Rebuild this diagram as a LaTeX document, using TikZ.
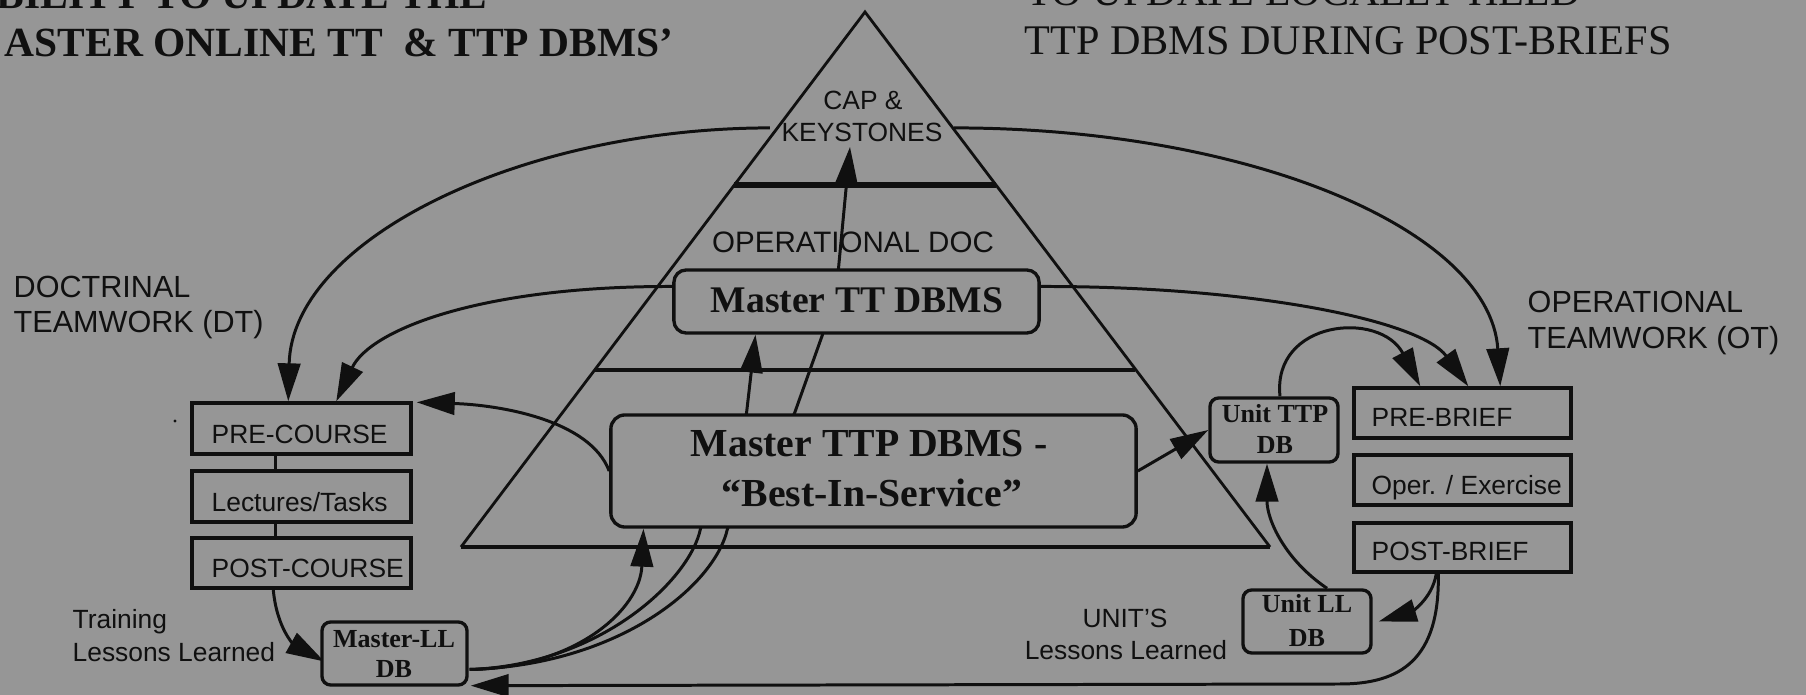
\documentclass[tikz,border=0pt]{standalone}
\usepackage{fontspec}
\setmainfont{Liberation Serif}
\setsansfont{Liberation Sans}
\usetikzlibrary{arrows.meta,calc}
\definecolor{bgc}{RGB}{150,150,150}
\definecolor{ink}{RGB}{16,16,16}
\pgfdeclarelayer{paper}
\pgfdeclarelayer{lines}
\pgfsetlayers{paper,lines,main}
\begin{document}
\begin{tikzpicture}[x=0.01cm,y=-0.01cm,
  every node/.style={inner sep=0pt,text=ink},
  sqbox/.style={draw=ink,line width=0.95pt,fill=bgc,rectangle},
  rdbox/.style={sqbox,rounded corners=#1},
  con/.style={draw=ink,line width=0.85pt,-{Triangle[length=10.8pt,width=6.4pt]}},
  plain/.style={draw=ink,line width=0.85pt},
  fsans/.style={font=\sffamily\fontsize{7.5pt}{9pt}\selectfont},
  fside/.style={font=\sffamily\fontsize{8.7pt}{10pt}\selectfont},
  fdoc/.style={font=\sffamily\fontsize{8.4pt}{10pt}\selectfont},
  fsb/.style={font=\bfseries\fontsize{7.4pt}{9pt}\selectfont},
  fttp/.style={font=\bfseries\fontsize{11.3pt}{13pt}\selectfont},
  fttd/.style={font=\bfseries\fontsize{10.7pt}{12pt}\selectfont},
  ftb/.style={font=\bfseries\fontsize{11.8pt}{14pt}\selectfont},
  ftr/.style={font=\fontsize{12pt}{14pt}\selectfont}]

\begin{pgfonlayer}{paper}
\fill[bgc] (0,0) rectangle (1806,695);
\end{pgfonlayer}
\useasboundingbox (0,0) rectangle (1806,695);

% titles (cut by the frame, as in the reference)
\begin{scope}
\clip (0,0) rectangle (1806,695);
\node[ftb,anchor=base east] (tl1) at (488,9) {BILITY TO UPDATE THE};
\node[ftb,anchor=base east] (tl2) at (674,57) {ASTER ONLINE TT\ \ \& TTP DBMS’};
\node[ftr,anchor=base west] (tr1) at (1026,6) {TO UPDATE LOCALLY HELD};
\node[ftr,anchor=base west] (tr2) at (1024,55) {TTP DBMS DURING POST-BRIEFS};
\end{scope}

% pyramid
\draw[ink,line width=0.8pt] (461,547) -- (865,12) -- (1270,547);
\draw[ink,line width=1.1pt] (461,547) -- (1270,547);
\draw[ink,line width=1.6pt] (734,185) -- (996,185);
\draw[ink,line width=1.0pt] (595,370) -- (1135,370);

\node[fsans,anchor=base] (capA) at (863,110) {CAP \&};
\node[fsans,anchor=base] (capB) at (862,142) {KEYSTONES};
\node[fdoc,anchor=base] (opdoc) at (853,253) {OPERATIONAL DOC};

% boxes
\node[rdbox=3.5pt,minimum width=3.65cm,minimum height=0.63cm] (ttd) at (856.5,301.5) {};
\node[fttd,anchor=base] (ttdT) at (857,313) {Master TT DBMS};
\node[rdbox=4pt,minimum width=5.25cm,minimum height=1.12cm] (ttp) at (873.5,471) {};
\node[fttp,anchor=base] (ttpA) at (869,457) {Master TTP DBMS -};
\node[fttp,anchor=base] (ttpB) at (872,507) {“Best-In-Service”};

\node[sqbox,minimum width=2.19cm,minimum height=0.51cm] (pre) at (301.5,428.5) {};
\node[sqbox,minimum width=2.19cm,minimum height=0.51cm] (lec) at (301.5,496.5) {};
\node[sqbox,minimum width=2.19cm,minimum height=0.50cm] (post) at (301.5,563) {};
\node[fsans,anchor=base west] (preT) at (211,444) {PRE-COURSE};
\node[fsans,anchor=base west] (lecT) at (211,512) {Lectures/Tasks};
\node[fsans,anchor=base west] (postT) at (211,578) {POST-COURSE};

\node[rdbox=2.5pt,minimum width=1.45cm,minimum height=0.63cm] (mll) at (394.5,653.5) {};
\node[fsb,anchor=base] (mllA) at (394,648) {Master-LL};
\node[fsb,anchor=base] (mllB) at (394,678) {DB};

\node[rdbox=2.5pt,minimum width=1.28cm,minimum height=0.64cm] (utt) at (1274,430) {};
\node[fsb,anchor=base] (uttA) at (1275,423) {Unit TTP};
\node[fsb,anchor=base] (uttB) at (1275,454) {DB};

\node[rdbox=2.5pt,minimum width=1.28cm,minimum height=0.63cm] (ull) at (1307,621.5) {};
\node[fsb,anchor=base] (ullA) at (1307,613) {Unit LL};
\node[fsb,anchor=base] (ullB) at (1307,647) {DB};

\node[sqbox,minimum width=2.17cm,minimum height=0.50cm] (brief) at (1462.5,413) {};
\node[sqbox,minimum width=2.17cm,minimum height=0.50cm] (oper) at (1462.5,480) {};
\node[sqbox,minimum width=2.17cm,minimum height=0.49cm] (postb) at (1462.5,547.5) {};
\node[fsans,anchor=base west] (briefT) at (1371,427) {PRE-BRIEF};
\node[fsans,anchor=base west] (operT) at (1371,495) {Oper. / Exercise};
\node[fsans,anchor=base west] (postbT) at (1371,561) {POST-BRIEF};

% side labels
\node[fside,anchor=base west] (dtA) at (13,298) {DOCTRINAL};
\node[fside,anchor=base west] (dtB) at (13,333) {TEAMWORK (DT)};
\node[fside,anchor=base west] (otA) at (1527,313) {OPERATIONAL};
\node[fside,anchor=base west] (otB) at (1527,349) {TEAMWORK (OT)};
\node[fsans,anchor=base west] (trA) at (72,629) {Training};
\node[fsans,anchor=base west] (trB) at (72,662) {Lessons Learned};
\node[fsans,anchor=base] (unA) at (1125,628) {UNIT'S};
\node[fsans,anchor=base] (unB) at (1126,660) {Lessons Learned};
\fill[ink] (175,421) circle (1.6);

% connectors
\begin{pgfonlayer}{lines}
\draw[plain] ($(pre.south west)+(85,0)$) -- ($(lec.north west)+(85,0)$);
\draw[plain] ($(lec.south west)+(85,0)$) -- ($(post.north west)+(85,0)$);
% keystones out
\draw[con] ($(capB.west)+(-11,-5)$) .. controls (520,128) and (292,240) .. ($(pre.north west)+(98,0)$);
\draw[con] ($(capB.east)+(11,-5)$) .. controls (1250,128) and (1490,230) .. ($(brief.north west)+(148,0)$);
% master TT out
\draw[con] ($(ttd.west)+(0,-15)$) .. controls (480,286) and (370,330) .. ($(pre.north west)+(146,0)$);
\draw[con] ($(ttd.east)+(0,-15)$) .. controls (1250,286) and (1420,320) .. ($(brief.north west)+(116,0)$);
% unit TTP loop
\draw[con] ($(utt.north)+(6,0)$) .. controls (1272,320) and (1380,310) .. ($(brief.north west)+(68,0)$);
% master TTP out
\draw[con] (ttp.west) .. controls (590,420) and (500,405) .. ($(pre.north east)+(4,1)$);
\draw[con] (ttp.east) -- (utt.west);
% master LL up
\draw[con] ($(mll.east)+(1,16)$) .. controls (575,668) and (640,610) .. ($(ttp.south)+(-230,0)$);
\draw[con] ($(mll.east)+(1,16)$) .. controls (600,665) and (690,580) .. ($(ttp.south)+(-173,0)$)
   -- ($(ttp.north)+(-127,0)$) -- ($(ttd.south)+(-101,0)$);
\draw[con] ($(mll.east)+(1,16)$) .. controls (620,665) and (715,585) .. ($(ttp.south)+(-146,0)$)
   -- ($(ttp.north)+(-79,0)$) -- ($(ttd.south)+(-34,0)$) -- ($(ttd.north)+(-18,0)$) -- ($(capB.south)+(-12,4)$);
% post-course to master LL
\draw[con] ($(post.south west)+(83,0)$) .. controls (277,630) and (295,645) .. ($(mll.west)+(4,8)$);
% post-brief
\draw[con] ($(postb.south west)+(84,0)$) .. controls (1432,600) and (1410,612) .. ($(ull.east)+(6,0)$);
\draw[con] ($(postb.south west)+(86,0)$) .. controls (1440,660) and (1400,684) .. (1340,684) -- ($(mll.south east)+(2,-1)$);
\draw[con] ($(ull.north)+(20,0)$) .. controls (1285,560) and (1267,520) .. ($(utt.south)+(-7,0)$);
\end{pgfonlayer}
\end{tikzpicture}
\end{document}
